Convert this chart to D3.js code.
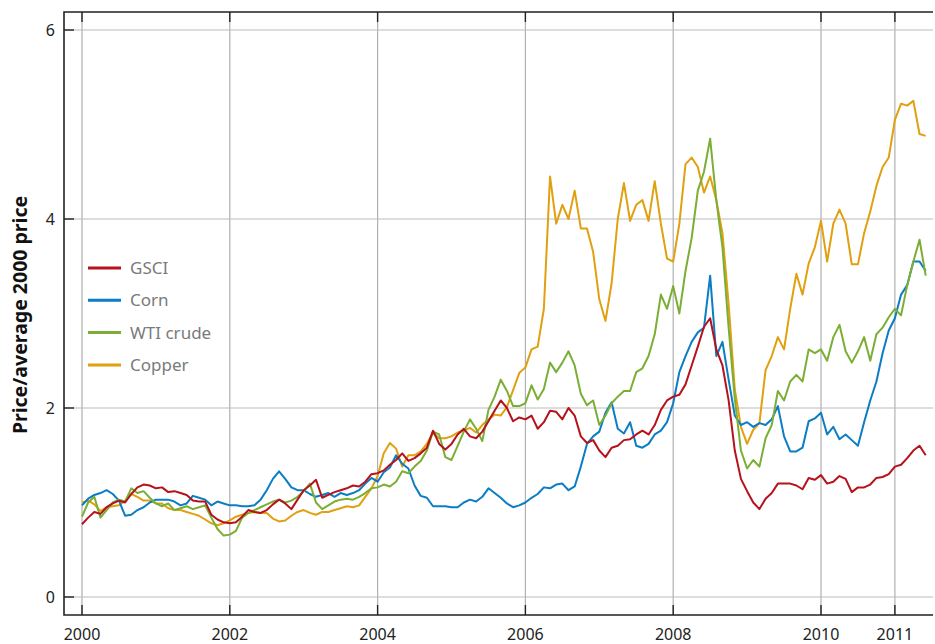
<!DOCTYPE html>
<html>
<head>
<meta charset="utf-8">
<script src="https://cdn.jsdelivr.net/npm/d3@7"></script>
<style>
  html, body { margin: 0; padding: 0; background: #fff; }
  svg { display: block; font-family: "Noto Sans", "Open Sans", sans-serif; }
</style>
</head>
<body>
<div id="chart"></div>
<script>
// monthly readings, Jan 2000 onwards (price / average 2000 price)
const seriesNames = ["GSCI", "Corn", "WTI crude", "Copper"];

const gsci = [
  0.77, 0.84, 0.90, 0.88, 0.95, 0.99, 1.02, 1.00, 1.09, 1.16, 1.19, 1.18,
  1.15, 1.16, 1.11, 1.12, 1.10, 1.08, 1.02, 1.01, 1.01, 0.87, 0.82, 0.79,
  0.78, 0.79, 0.85, 0.92, 0.90, 0.89, 0.92, 0.98, 1.03, 0.99, 0.93, 1.03,
  1.13, 1.18, 1.24, 1.05, 1.08, 1.11, 1.13, 1.15, 1.18, 1.17, 1.22, 1.30,
  1.31, 1.34, 1.40, 1.45, 1.52, 1.44, 1.47, 1.52, 1.58, 1.76, 1.62, 1.56,
  1.62, 1.72, 1.78, 1.70, 1.68, 1.75, 1.86, 1.97, 2.08, 2.00, 1.86, 1.90,
  1.88, 1.92, 1.78, 1.85, 1.97, 1.96, 1.88, 2.00, 1.92, 1.70, 1.63, 1.66,
  1.55, 1.48, 1.58, 1.60, 1.66, 1.67, 1.72, 1.76, 1.72, 1.82, 1.98, 2.08,
  2.12, 2.14, 2.25, 2.45, 2.65, 2.86, 2.95, 2.62, 2.45, 2.08, 1.55, 1.25,
  1.12, 1.00, 0.93, 1.04, 1.10, 1.20, 1.20, 1.20, 1.18, 1.14, 1.26, 1.24,
  1.29, 1.20, 1.22, 1.28, 1.25, 1.11, 1.16, 1.16, 1.19, 1.26, 1.27, 1.30,
  1.38, 1.40, 1.47, 1.55, 1.60, 1.50
];

const corn = [
  0.97, 1.04, 1.08, 1.10, 1.13, 1.09, 1.02, 0.86, 0.87, 0.92, 0.95, 1.00,
  1.03, 1.03, 1.03, 1.01, 0.97, 0.99, 1.07, 1.05, 1.03, 0.97, 1.01, 0.99,
  0.97, 0.97, 0.96, 0.96, 0.97, 1.03, 1.13, 1.25, 1.33, 1.25, 1.16, 1.13,
  1.13, 1.09, 1.06, 1.08, 1.10, 1.06, 1.10, 1.08, 1.10, 1.13, 1.20, 1.26,
  1.22, 1.32, 1.37, 1.50, 1.41, 1.36, 1.18, 1.07, 1.05, 0.96, 0.96, 0.96,
  0.95, 0.95, 1.00, 1.03, 1.01, 1.06, 1.15, 1.10, 1.05, 0.99, 0.95, 0.97,
  1.00, 1.05, 1.09, 1.16, 1.15, 1.19, 1.20, 1.13, 1.17, 1.38, 1.62, 1.70,
  1.75, 1.95, 2.06, 1.78, 1.73, 1.85, 1.60, 1.58, 1.62, 1.72, 1.76, 1.85,
  2.05, 2.38, 2.55, 2.70, 2.80, 2.85, 3.40, 2.55, 2.70, 2.30, 1.92, 1.82,
  1.85, 1.80, 1.84, 1.82, 1.88, 2.02, 1.70, 1.54, 1.54, 1.58, 1.86, 1.89,
  1.95, 1.72, 1.80, 1.67, 1.72, 1.66, 1.60, 1.85, 2.08, 2.28, 2.58, 2.82,
  2.95, 3.20, 3.30, 3.55, 3.55, 3.45
];

const wti = [
  0.85, 1.00, 1.06, 0.84, 0.92, 1.00, 1.03, 1.01, 1.15, 1.10, 1.12, 1.05,
  0.99, 0.96, 0.99, 0.92, 0.94, 0.96, 0.93, 0.95, 0.97, 0.84, 0.72, 0.65,
  0.66, 0.70, 0.84, 0.89, 0.92, 0.95, 0.98, 1.01, 1.03, 1.00, 1.02, 1.06,
  1.12, 1.20, 1.00, 0.93, 0.97, 1.01, 1.03, 1.04, 1.03, 1.06, 1.10, 1.15,
  1.16, 1.19, 1.17, 1.22, 1.33, 1.31, 1.38, 1.44, 1.55, 1.75, 1.72, 1.48,
  1.45, 1.60, 1.75, 1.88, 1.78, 1.65, 1.98, 2.12, 2.30, 2.18, 2.02, 2.02,
  2.05, 2.24, 2.09, 2.20, 2.48, 2.38, 2.48, 2.60, 2.45, 2.15, 2.03, 2.08,
  1.82, 1.92, 2.05, 2.12, 2.18, 2.18, 2.38, 2.42, 2.55, 2.78, 3.20, 3.05,
  3.29, 3.00, 3.45, 3.80, 4.30, 4.50, 4.85, 4.20, 3.70, 2.85, 2.10, 1.55,
  1.36, 1.45, 1.38, 1.68, 1.82, 2.18, 2.08, 2.28, 2.35, 2.28, 2.62, 2.58,
  2.62, 2.50, 2.75, 2.88, 2.60, 2.48, 2.60, 2.75, 2.50, 2.78, 2.85, 2.96,
  3.05, 2.98, 3.30, 3.55, 3.78, 3.40
];

const copper = [
  1.00, 1.02, 0.98, 0.91, 0.95, 0.96, 0.97, 1.02, 1.09, 1.06, 1.02, 1.02,
  0.99, 0.99, 0.94, 0.92, 0.92, 0.90, 0.88, 0.86, 0.82, 0.78, 0.76, 0.78,
  0.81, 0.85, 0.87, 0.89, 0.90, 0.89, 0.89, 0.83, 0.80, 0.81, 0.86, 0.90,
  0.92, 0.89, 0.87, 0.90, 0.90, 0.92, 0.94, 0.96, 0.95, 0.97, 1.06, 1.15,
  1.28, 1.52, 1.63, 1.57, 1.38, 1.50, 1.50, 1.54, 1.62, 1.74, 1.68, 1.68,
  1.70, 1.74, 1.76, 1.79, 1.74, 1.82, 1.88, 1.93, 1.92, 2.01, 2.19, 2.37,
  2.43, 2.62, 2.65, 3.05, 4.45, 3.95, 4.15, 4.00, 4.30, 3.90, 3.90, 3.65,
  3.15, 2.92, 3.32, 4.00, 4.38, 3.98, 4.15, 4.20, 3.98, 4.40, 3.95, 3.58,
  3.55, 3.95, 4.58, 4.65, 4.55, 4.28, 4.45, 4.20, 3.85, 3.10, 2.20, 1.80,
  1.62, 1.77, 1.84, 2.40, 2.55, 2.75, 2.62, 3.05, 3.42, 3.20, 3.53, 3.70,
  3.98, 3.55, 3.95, 4.10, 3.95, 3.52, 3.52, 3.85, 4.08, 4.35, 4.55, 4.65,
  5.05, 5.22, 5.20, 5.25, 4.90, 4.88
];

const xTicks = [2000, 2002, 2004, 2006, 2008, 2010, 2011];
const yTicks = [0, 2, 4, 6];
const colors = ["#b5121b", "#0a7dc4", "#7bae34", "#e0a010"];
const startYear = 2000;

const W = 935, H = 644;
const plotLeft = 64, plotRight = 933, plotTop = 12, plotBottom = 615;

const svg = d3.select("#chart").append("svg")
  .attr("width", W).attr("height", H);

const x = d3.scaleLinear()
  .domain([1999.7564, 2011.5156])
  .range([plotLeft, plotRight]);
const y = d3.scaleLinear()
  .domain([-0.1905, 6.1905])
  .range([plotBottom, plotTop]);

// grid
svg.append("g").selectAll("line").data(xTicks).enter().append("line")
  .attr("x1", d => x(d)).attr("x2", d => x(d))
  .attr("y1", plotTop).attr("y2", plotBottom)
  .attr("stroke", "#b0b0b0").attr("stroke-width", 1.2);
svg.append("g").selectAll("line").data(yTicks).enter().append("line")
  .attr("x1", plotLeft).attr("x2", plotRight)
  .attr("y1", d => y(d)).attr("y2", d => y(d))
  .attr("stroke", "#bcbcbc").attr("stroke-width", 1.2);

// series
const allSeries = [gsci, corn, wti, copper];
const line = d3.line()
  .x((d, i) => x(startYear + i / 12))
  .y(d => y(d));

const drawOrder = [3, 1, 2, 0];
svg.append("g").selectAll("path").data(drawOrder).enter().append("path")
  .attr("d", k => line(allSeries[k]))
  .attr("fill", "none")
  .attr("stroke", k => colors[k])
  .attr("stroke-width", 2)
  .attr("stroke-linejoin", "round");

// frame: left, top, bottom
svg.append("path")
  .attr("d", `M${plotRight},${plotTop}H${plotLeft}V${plotBottom}H${plotRight}`)
  .attr("fill", "none").attr("stroke", "#222").attr("stroke-width", 1.6);

// ticks
svg.append("g").selectAll("line").data(yTicks).enter().append("line")
  .attr("x1", plotLeft).attr("x2", plotLeft + 10)
  .attr("y1", d => y(d)).attr("y2", d => y(d))
  .attr("stroke", "#222").attr("stroke-width", 1.4);
svg.append("g").selectAll("line").data(xTicks).enter().append("line")
  .attr("x1", d => x(d)).attr("x2", d => x(d))
  .attr("y1", plotBottom).attr("y2", plotBottom - 10)
  .attr("stroke", "#222").attr("stroke-width", 1.4);
svg.append("g").selectAll("line").data(xTicks).enter().append("line")
  .attr("x1", d => x(d)).attr("x2", d => x(d))
  .attr("y1", plotTop).attr("y2", plotTop + 10)
  .attr("stroke", "#222").attr("stroke-width", 1.4);

// tick labels
svg.append("g").selectAll("text").data(yTicks).enter().append("text")
  .attr("x", plotLeft - 9).attr("y", d => y(d))
  .attr("dy", "0.35em").attr("text-anchor", "end")
  .attr("font-size", 16).attr("fill", "#222")
  .text(d => d);
svg.append("g").selectAll("text").data(xTicks).enter().append("text")
  .attr("x", d => x(d)).attr("y", 640)
  .attr("text-anchor", "middle")
  .attr("font-size", 16).attr("fill", "#222")
  .text(d => d);

// axis title
svg.append("text")
  .attr("transform", `translate(27, 315) rotate(-90)`)
  .attr("text-anchor", "middle")
  .attr("font-size", 19.5).attr("font-weight", "bold").attr("fill", "#111")
  .text("Price/average 2000 price");

// legend
const legend = svg.append("g").selectAll("g").data(seriesNames).enter().append("g")
  .attr("transform", (d, i) => `translate(88, ${268 + i * 32.3})`);
legend.append("line")
  .attr("x1", 0).attr("x2", 33).attr("y1", 0).attr("y2", 0)
  .attr("stroke", (d, i) => colors[i]).attr("stroke-width", 3);
legend.append("text")
  .attr("x", 42).attr("dy", "0.35em")
  .attr("font-size", 17).attr("fill", "#7a7a7a")
  .text(d => d);
</script>
</body>
</html>
